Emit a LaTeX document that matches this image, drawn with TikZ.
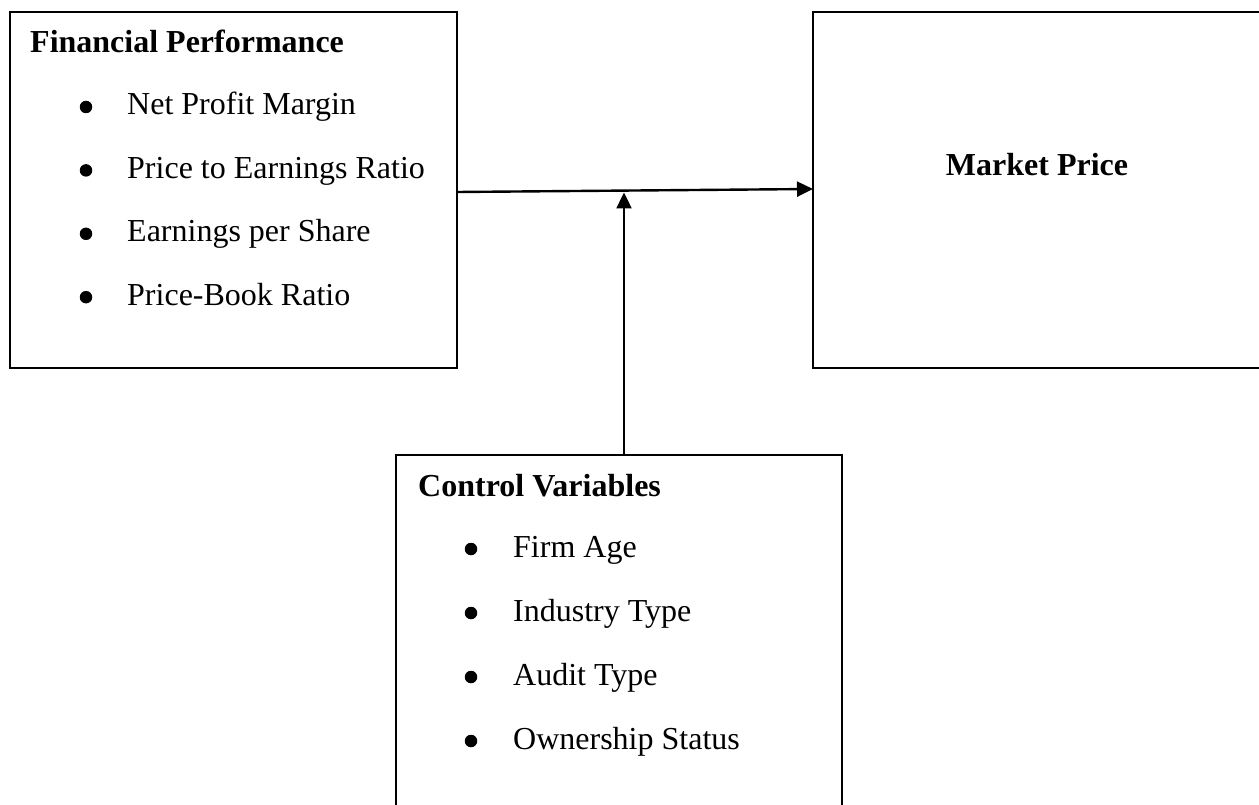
\documentclass[tikz,border=0pt]{standalone}
\usepackage{fontspec}
\setmainfont{Liberation Serif}
\usetikzlibrary{arrows.meta}
\begin{document}
\begin{tikzpicture}[x=1pt,y=-1pt,
  box/.style={draw, rectangle, line width=2.2pt, inner sep=0pt, outer sep=0pt},
  head/.style={anchor=base west, inner sep=0pt, font=\fontsize{32}{38}\selectfont\bfseries},
  item/.style={anchor=base west, inner sep=0pt, font=\fontsize{32}{38}\selectfont},
  dot/.style={circle, fill, inner sep=0pt, minimum size=12.5pt},
  link/.style={line width=2.4pt, -{Triangle[length=16pt,width=15pt]}}]
\useasboundingbox (0,0) rectangle (1259,805);
\clip (0,0) rectangle (1259,805);

% the three boxes
\node[box, minimum width=447pt, minimum height=356pt] (fp) at (233.5,190) {};
\node[box, minimum width=454pt, minimum height=356pt] (mp) at (1040,190) {};
\node[box, minimum width=446pt, minimum height=370pt] (cv) at (619,640) {};

% financial performance
\node[head] (fph) at (30,53) {Financial Performance};
\foreach \t [count=\i] in {Net Profit Margin, Price to Earnings Ratio, Earnings per Share, Price-Book Ratio} {
  \node[item] (fp\i) at (127,{115+63.4*(\i-1)}) {\t};
  \node[dot] (fpb\i) at (86,{107+63.4*(\i-1)}) {};
}

% market price
\node[font=\fontsize{32}{38}\selectfont\bfseries, anchor=base, inner sep=0pt] (mpt) at (1037,176) {Market Price};

% control variables
\node[head] (cvh) at (418,496) {Control Variables};
\foreach \t [count=\i] in {Firm Age, Industry Type, Audit Type, Ownership Status} {
  \node[item] (cv\i) at (513,{557+64*(\i-1)}) {\t};
  \node[dot] (cvb\i) at (471,{549+64*(\i-1)}) {};
}

% connectors
\draw[link] ([yshift=-2pt]fp.east) -- ([yshift=1pt]mp.west);
\coordinate (j) at (624,192.5);
\draw[link] (j |- cv.north) -- (j);
\end{tikzpicture}
\end{document}
